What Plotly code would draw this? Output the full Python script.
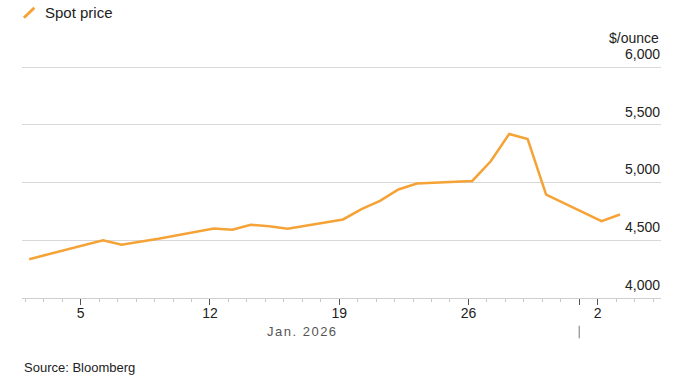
import plotly.graph_objects as go

dates = ["2026-01-02", "2026-01-05", "2026-01-06", "2026-01-07", "2026-01-08", "2026-01-09",
         "2026-01-12", "2026-01-13", "2026-01-14", "2026-01-15", "2026-01-16",
         "2026-01-19", "2026-01-20", "2026-01-21", "2026-01-22", "2026-01-23",
         "2026-01-26", "2026-01-27", "2026-01-28", "2026-01-29", "2026-01-30",
         "2026-02-02", "2026-02-03"]
prices = [4335, 4454, 4500, 4460, 4483, 4512,
          4602, 4590, 4633, 4620, 4600,
          4680, 4769, 4841, 4940, 4992,
          5014, 5185, 5422, 5378, 4896,
          4665, 4723]
series_name = "Spot price"
unit_label = "$/ounce"
y_ticks = [4000, 4500, 5000, 5500, 6000]
y_ticktext = ["4,000", "4,500", "5,000", "5,500", "6,000"]
x_ticks = ["2026-01-05", "2026-01-12", "2026-01-19", "2026-01-26", "2026-02-01", "2026-02-02"]
x_ticktext = ["5", "12", "19", "26", "", "2"]
month_label = "Jan. 2026"
source_text = "Source: Bloomberg"

ORANGE = "#F5A236"
FONT = "Liberation Sans, Arial, sans-serif"

x_vals = [d + " 05:00" for d in dates]

fig = go.Figure()
fig.add_trace(go.Scatter(x=x_vals, y=prices, mode="lines", name=series_name,
                         line=dict(color=ORANGE, width=2.5), showlegend=False,
                         hoverinfo="skip"))

fig.update_layout(
    width=700, height=383,
    margin=dict(l=22, r=39, t=65.62, b=85.07, pad=0),
    paper_bgcolor="white", plot_bgcolor="white",
    font=dict(family=FONT, size=14, color="#222"),
    xaxis=dict(
        type="date",
        range=["2026-01-01 19:40", "2026-02-05 10:20"],
        tickvals=x_ticks, ticktext=x_ticktext,
        ticks="outside", ticklen=6, tickwidth=1, tickcolor="#555",
        ticklabelstandoff=-4,
        showline=True, linecolor="#cfcfcf", linewidth=1,
        showgrid=False, zeroline=False,
        tickfont=dict(size=14, color="#222"),
        minor=dict(ticks="outside", ticklen=3, tickwidth=1, tickcolor="#c8c8c8",
                   dtick=86400000, tick0="2026-01-01", showgrid=False),
    ),
    yaxis=dict(
        range=[3998, 6012], tickvals=y_ticks, ticktext=y_ticktext,
        side="right", ticklabelposition="inside", ticks="",
        ticklabeloverflow="allow",
        ticklabelshift=-13, ticklabelstandoff=-2,
        showgrid=True, gridcolor="#d8d8d8", gridwidth=1,
        zeroline=False, showline=False,
        tickfont=dict(size=14, color="#222"),
    ),
    shapes=[
        dict(type="line", xref="x", yref="paper", x0="2026-02-01", x1="2026-02-01",
             y0=-0.1195, y1=-0.1738, line=dict(color="#777", width=1)),
        dict(type="line", xref="paper", yref="paper", x0=0.0031, x1=0.0193,
             y0=1.2080, y1=1.2510, line=dict(color=ORANGE, width=3)),
    ],
    annotations=[
        dict(text='<span style="letter-spacing:1.5px">' + month_label + '</span>',
             xref="paper", yref="paper", x=0.4382, y=-0.1424,
             xanchor="center", yanchor="middle", showarrow=False,
             font=dict(size=13, color="#555")),
        dict(text=source_text, xref="paper", yref="paper", x=0, y=-0.3015,
             xanchor="left", yanchor="middle", showarrow=False,
             font=dict(size=13, color="#222")),
        dict(text=unit_label, xref="paper", yref="paper", x=1, y=1.1189,
             xanchor="right", yanchor="middle", showarrow=False,
             font=dict(size=14, color="#222")),
        dict(text=series_name, xref="paper", yref="paper", x=0.0324, y=1.2308,
             xanchor="left", yanchor="middle", showarrow=False,
             font=dict(size=15, color="#222")),
    ],
)

fig.write_html("out.html", config={"displayModeBar": False},
               post_script="document.body.style.margin='0';")
